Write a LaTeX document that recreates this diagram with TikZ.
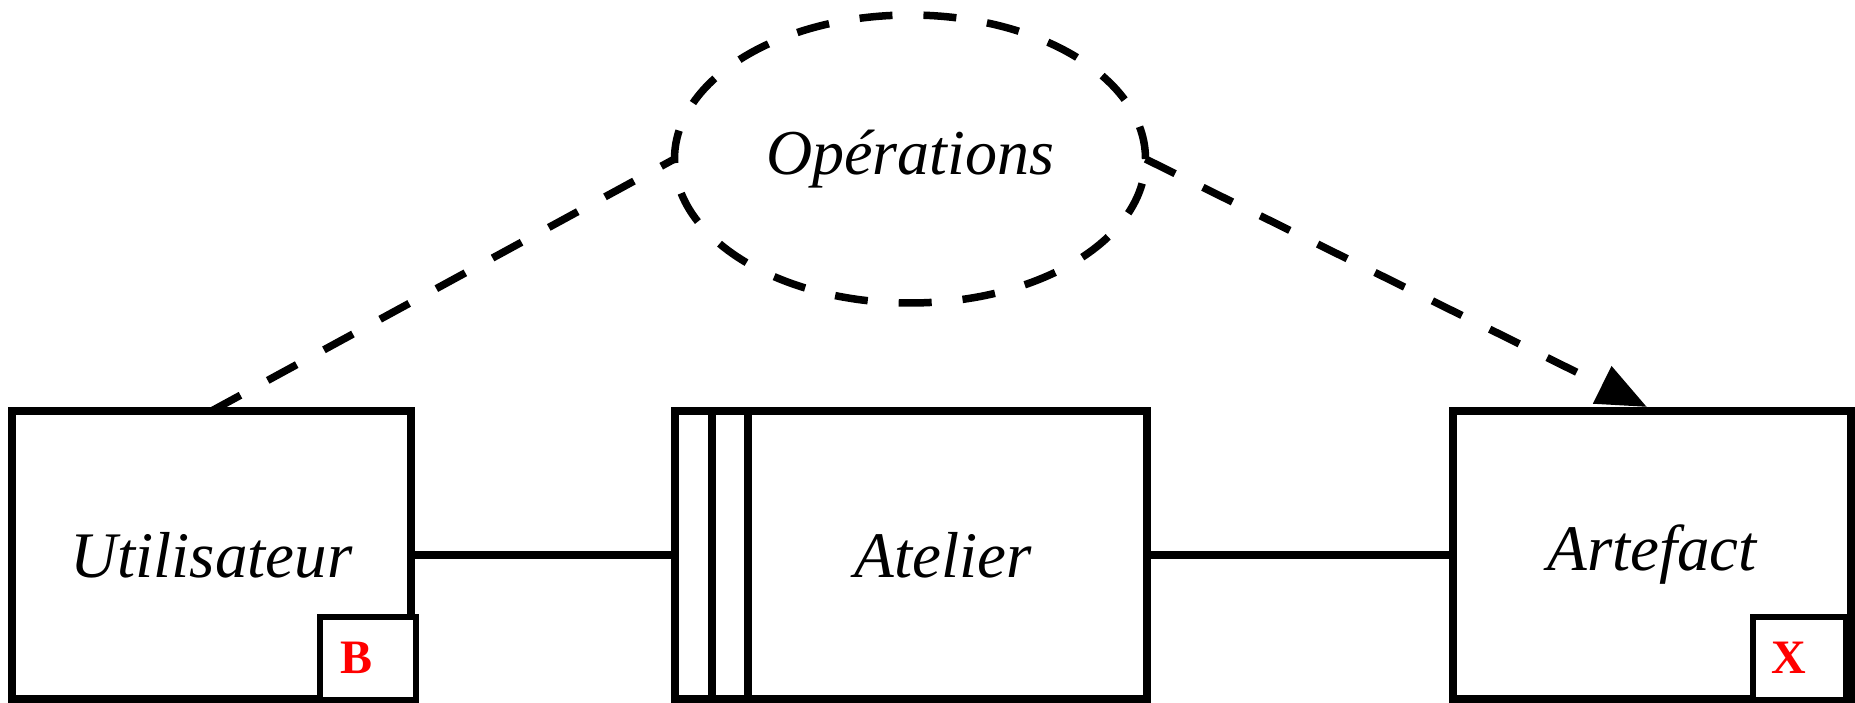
\documentclass[tikz,border=0pt]{standalone}
\usepackage{fontspec}
\setmainfont{Liberation Serif}
\usetikzlibrary{shapes.geometric,arrows.meta}
\begin{document}
\begin{tikzpicture}[x=1pt,y=-1pt,
  every node/.style={inner sep=0pt,outer sep=0pt},
  bigbox/.style={draw,line width=8pt,fill=white,minimum height=288pt,
    font=\fontsize{65}{70}\selectfont\itshape},
  tagbox/.style={draw,line width=6pt,fill=white,minimum height=83pt},
  tagtext/.style={font=\fontsize{48}{50}\selectfont\bfseries,text=red},
  dline/.style={line width=7.5pt,dash pattern=on 33pt off 31pt},
  sline/.style={line width=8pt}]
\useasboundingbox (0,0) rectangle (1855,703);
\node[bigbox,minimum width=399pt] (user) at (211.5,555) {Utilisateur};
\node[bigbox,minimum width=472pt] (atel) at (911,555) {};
\node[font=\fontsize{65}{70}\selectfont\itshape] (ateltxt) at (943,555) {Atelier};
\node[bigbox,minimum width=398pt] (art) at (1652,555) {Artefact};
\node[tagbox,minimum width=96pt] (tb) at (368,658) {};
\node[tagtext] (tbl) at (357,658) {B};
\node[tagbox,minimum width=93pt] (tx) at (1799.5,658) {};
\node[tagtext] (txl) at (1789,658) {X};
\coordinate (v1t) at (712,411);
\coordinate (v1b) at (712,699);
\coordinate (v2t) at (748,411);
\coordinate (v2b) at (748,699);
\draw[sline] (v1t) -- (v1b);
\draw[sline] (v2t) -- (v2b);
\node[ellipse,draw,dline,minimum width=471pt,minimum height=288pt,
  font=\fontsize{64}{70}\selectfont\itshape] (ops) at (910,159) {Opérations};
\draw[sline] (user.east) -- (atel.west);
\draw[sline] (atel.east) -- (art.west);
\draw[dline] (user.north) -- (ops.west);
\draw[dline,-{Triangle[length=50pt,width=40pt]}] (ops.east) -- ([xshift=-5pt,yshift=4pt]art.north);
\end{tikzpicture}
\end{document}
